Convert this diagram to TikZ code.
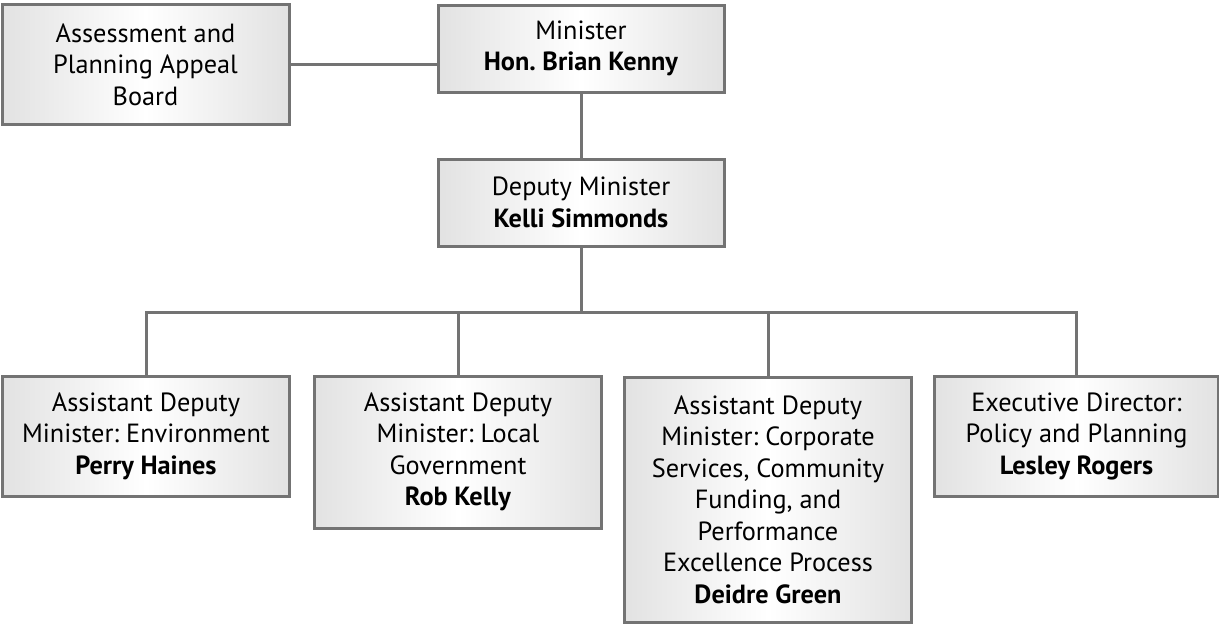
\documentclass[tikz,border=0pt]{standalone}
\usepackage{fontspec}
\setmainfont{PT Sans}
\frenchspacing
\begin{document}
\begin{tikzpicture}[x=1pt,y=-1pt,
  orgbox/.style={draw=linegray, line width=3pt, left color=boxgray, right color=boxgray, middle color=white,
    align=center, inner sep=0pt, font=\fontsize{26.3}{31.5}\selectfont, text=black},
  link/.style={draw=linegray, line width=3pt}]
\definecolor{linegray}{HTML}{737373}
\definecolor{boxgray}{HTML}{E2E2E2}
\useasboundingbox (0,0) rectangle (1219,624);
\node[orgbox, minimum width=287pt, minimum height=120pt] (apab) at (145.5,64.5) {Assessment and\\Planning Appeal\\Board};
\node[orgbox, minimum width=286pt, minimum height=87pt] (min) at (581,48.5) {Minister\\\textbf{Hon. Brian Kenny}};
\node[orgbox, minimum width=286pt, minimum height=87pt] (dep) at (581,202.5) {Deputy Minister\\\textbf{Kelli Simmonds}};
\node[orgbox, minimum width=287pt, minimum height=120pt] (b1) at (146,436) {Assistant Deputy\\Minister: Environment\\\textbf{Perry Haines}};
\node[orgbox, minimum width=287pt, minimum height=152pt] (b2) at (458,452) {Assistant Deputy\\Minister: Local\\Government\\\textbf{Rob Kelly}};
\node[orgbox, minimum width=287pt, minimum height=245pt] (b3) at (768,499.5) {Assistant Deputy\\Minister: Corporate\\Services, Community\\Funding, and\\Performance\\Excellence Process\\\textbf{Deidre Green}};
\node[orgbox, minimum width=284pt, minimum height=120pt] (b4) at (1076.5,436) {Executive Director:\\Policy and Planning\\\textbf{Lesley Rogers}};
\coordinate (bus) at (581,312);
\draw[link] (apab.east) -- (min.west |- apab.east);
\draw[link] (min.south) -- (dep.north);
\draw[link] (dep.south) -- (bus);
\draw[link] (b1.north) -- (b1.north |- bus) -- (b4.north |- bus) -- (b4.north);
\draw[link] (b2.north) -- (b2.north |- bus);
\draw[link] (b3.north) -- (b3.north |- bus);
\end{tikzpicture}
\end{document}
